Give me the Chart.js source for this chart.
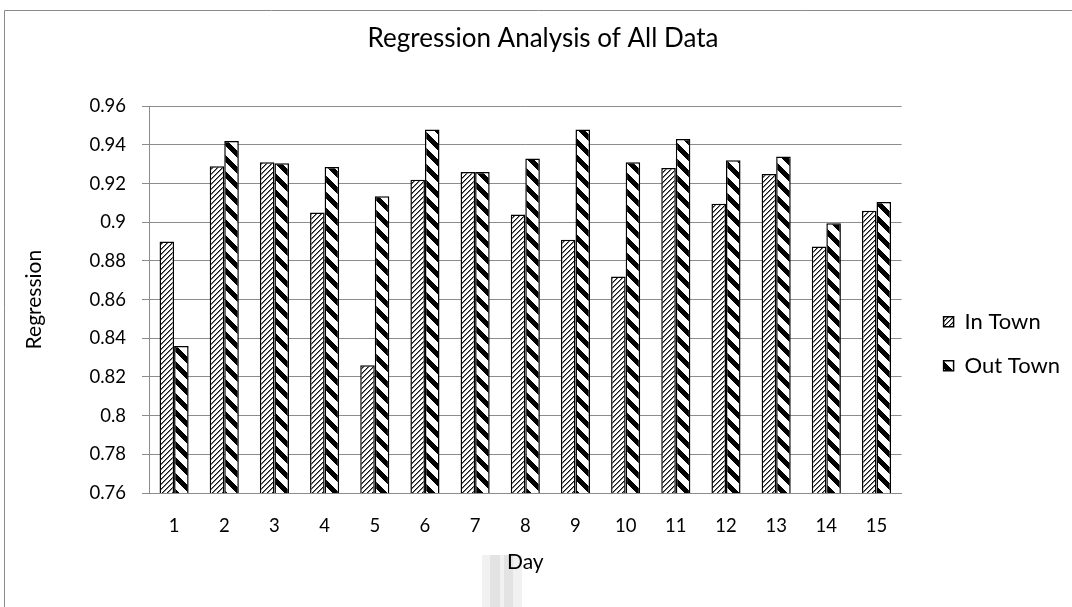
<!DOCTYPE html>
<html>
<head>
<meta charset="utf-8">
<script src="https://cdn.jsdelivr.net/npm/chart.js@4.4.0/dist/chart.umd.min.js"></script>
<style>
  body { margin: 0; background: #fff; }
  #wrap { position: relative; width: 1072px; height: 607px; }
</style>
</head>
<body>
<div id="wrap"><canvas id="chart" width="1072" height="607"></canvas></div>
<script>
// values
const days = ['1', '2', '3', '4', '5', '6', '7', '8', '9', '10', '11', '12', '13', '14', '15'];
const inTown = [0.890, 0.929, 0.931, 0.905, 0.826, 0.922, 0.926, 0.904, 0.891, 0.872, 0.928, 0.9095, 0.925, 0.8875, 0.906];
const outTown = [0.836, 0.942, 0.9305, 0.9285, 0.9135, 0.948, 0.926, 0.933, 0.948, 0.931, 0.943, 0.932, 0.934, 0.8995, 0.9105];
const yTickLabels = ['0.76', '0.78', '0.8', '0.82', '0.84', '0.86', '0.88', '0.9', '0.92', '0.94', '0.96'];

const FONT = 'Lato, "Open Sans", sans-serif';
const gridColor = '#8c8c8c';

// hatch fills
function makeTile(size, paint) {
  const c = document.createElement('canvas');
  c.width = size; c.height = size;
  const g = c.getContext('2d');
  g.fillStyle = '#fff';
  g.fillRect(0, 0, size, size);
  paint(g, size);
  return document.getElementById('chart').getContext('2d').createPattern(c, 'repeat');
}

// fine "/" hatch
const inPattern = makeTile(5, (g, s) => {
  for (let i = 0; i < s; i++) {
    g.fillStyle = '#111';
    g.fillRect(i, s - 1 - i, 1, 1);
    g.fillStyle = '#777';
    g.fillRect((i + 1) % s, s - 1 - i, 1, 1);
  }
});

// wide "\" hatch
const outPattern = makeTile(16, (g, s) => {
  g.fillStyle = '#000';
  for (let y = 0; y < s; y++) {
    for (let x = 0; x < s; x++) {
      if (((x - y) % s + s) % s < 7) g.fillRect(x, y, 1, 1);
    }
  }
});

const frame = {
  id: 'frame',
  beforeDraw(chart) {
    const c = chart.ctx;
    c.save();
    // faint mark under the axis title
    c.fillStyle = '#f1f1f1';
    c.fillRect(482, 555, 40, 52);
    c.fillStyle = '#e3e3e3';
    c.fillRect(490, 555, 10, 52);
    c.fillRect(504, 555, 9, 52);
    // outer border
    c.strokeStyle = '#8a8a8a';
    c.lineWidth = 1;
    c.beginPath();
    c.moveTo(4.5, 607);
    c.lineTo(4.5, 10.5);
    c.lineTo(1072, 10.5);
    c.stroke();
    c.restore();
  }
};

new Chart(document.getElementById('chart'), {
  type: 'bar',
  data: {
    labels: days,
    datasets: [{
      label: 'In Town',
      data: inTown,
      backgroundColor: inPattern,
      borderColor: '#000',
      borderWidth: 1.5,
      categoryPercentage: 0.58,
      barPercentage: 1
    }, {
      label: 'Out Town',
      data: outTown,
      backgroundColor: outPattern,
      borderColor: '#000',
      borderWidth: 1.5,
      categoryPercentage: 0.58,
      barPercentage: 1
    }]
  },
  options: {
    responsive: false,
    animation: false,
    layout: {
      padding: { left: 16, right: 2, top: 12, bottom: 0 }
    },
    scales: {
      x: {
        grid: { display: false },
        border: { display: true, color: gridColor, width: 1 },
        ticks: { color: '#000', font: { family: FONT, size: 18.5 }, padding: 14 },
        title: { display: true, text: 'Day', color: '#000', font: { family: FONT, size: 21 }, padding: { top: 0, bottom: 32 } },
        afterFit: s => { s.height = 114; }
      },
      y: {
        min: 0.76,
        max: 0.96,
        grid: { color: gridColor, lineWidth: 1, tickLength: 7 },
        border: { display: true, color: gridColor, width: 1 },
        ticks: {
          stepSize: 0.02,
          color: '#000',
          font: { family: FONT, size: 18.5 },
          padding: 16,
          callback: (v, i) => yTickLabels[i]
        },
        title: { display: true, text: 'Regression', color: '#000', font: { family: FONT, size: 21 }, padding: { top: 6, bottom: 20 } },
        afterFit: s => { s.width = 133; }
      },
      // spacer between plot and legend
      gap: {
        position: 'right',
        display: true,
        grid: { display: false },
        border: { display: false },
        ticks: { display: false },
        afterFit: s => { s.width = 20; }
      }
    },
    plugins: {
      title: {
        display: true,
        text: 'Regression Analysis of All Data',
        color: '#000',
        font: { family: FONT, size: 26, weight: 'normal' },
        padding: { top: 11, bottom: 52 }
      },
      legend: {
        position: 'right',
        title: { display: true, text: ' ', padding: { top: 54 } },
        labels: {
          color: '#000',
          font: { family: FONT, size: 22 },
          boxWidth: 10,
          boxHeight: 10,
          padding: 22
        }
      },
      tooltip: { enabled: false }
    }
  },
  plugins: [frame]
});
</script>
</body>
</html>
